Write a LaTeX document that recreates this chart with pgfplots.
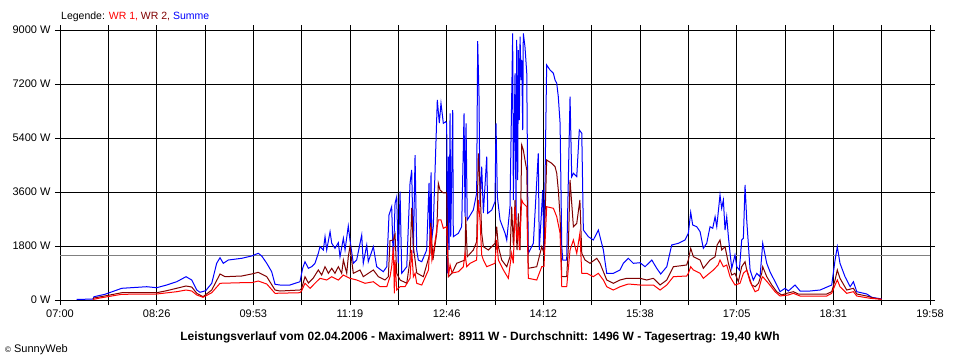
\documentclass[border=0pt]{standalone}
\usepackage{pgfplots}
\pgfplotsset{compat=1.18}
\usepackage{fontspec}
\setmainfont{Liberation Sans}
\definecolor{wrone}{RGB}{255,0,0}
\definecolor{wrtwo}{RGB}{128,0,0}
\definecolor{summe}{RGB}{0,0,255}
\definecolor{avggray}{RGB}{128,128,128}
\begin{document}
\begin{tikzpicture}[x=1pt,y=1pt]
\useasboundingbox (0,0) rectangle (960,360);
\begin{axis}[
  at={(60pt,60pt)}, anchor=south west,
  scale only axis, width=870pt, height=270pt,
  xmin=0, xmax=778, ymin=0, ymax=9000,
  xtick={0,43.222,86.444,129.667,172.889,216.111,259.333,302.556,345.778,389,432.222,475.444,518.667,561.889,605.111,648.333,691.556,734.778,778},
  xticklabels={07:00,,08:26,,09:53,,11:19,,12:46,,14:12,,15:38,,17:05,,18:31,,19:58},
  ytick={0,1800,3600,5400,7200,9000},
  yticklabels={0 W,1800 W,3600 W,5400 W,7200 W,9000 W},
  grid=major,
  major grid style={black, line width=1pt},
  axis line style={black, line width=1pt},
  tick style={black, line width=1pt},
  tick align=outside,
  major tick length=5pt,
  tick label style={font=\fontsize{11}{13}\selectfont},
  xticklabel style={yshift=-1pt},
  yticklabel style={xshift=-1pt},
  clip=false,
]
\addplot[avggray, line width=1pt] coordinates {(0,1496) (778,1496)};
% Summe
\addplot[summe, line width=1pt] coordinates {
(14.9,20)(29.5,30)(30.4,110)(40.2,190)(55.2,390)(77.5,443)(86.5,410)(95.4,500)(104.4,610)(112.7,777)(117.8,667)(122.3,333)(125.2,257)(130.3,310)(135.7,557)(140.1,1223)(143.1,1410)(146.0,1223)(150.5,1333)(162.5,1390)(171.4,1467)(177.3,1557)(180.4,1467)(184.9,1223)(189.3,943)(192.3,523)(196.7,500)(205.7,500)(214.6,610)(217.0,1057)(219.1,1277)(222.1,1057)(225.1,1110)(228.0,1223)(231.0,1557)(232.5,1777)(235.5,1667)(237.0,2110)(238.5,1667)(241.5,2277)(243.0,1890)(245.9,1723)(248.9,1910)(250.4,1443)(253.4,2057)(254.9,1667)(257.8,2467)(259.3,2000)(262.3,1223)(265.3,1333)(269.8,2167)(271.2,1223)(274.3,1833)(275.7,1277)(280.2,1777)(283.2,1110)(289.1,943)(292.2,1110)(294.2,2833)(296.6,3110)(298.1,1223)(299.6,3223)(301.1,3443)(302.5,1223)(304.1,3610)(305.6,890)(310.1,1110)(313.0,3890)(314.5,4333)(316.0,1567)(317.5,4833)(319.0,1667)(320.4,1333)(323.5,1277)(327.9,1667)(330.0,3900)(330.9,1777)(331.8,4257)(332.4,2000)(333.8,2443)(337.4,6667)(339.2,5900)(340.7,6557)(342.8,5890)(344.9,5943)(345.8,5900)(346.4,890)(347.3,4777)(347.9,1667)(348.8,6223)(349.4,2110)(351.2,6333)(351.7,2110)(356.2,2223)(359.2,2443)(361.3,6223)(362.2,2777)(363.1,5890)(364.2,2667)(369.6,3000)(372.6,3557)(373.5,8633)(374.7,6777)(375.6,3110)(377.1,4443)(378.6,2900)(381.6,4777)(382.5,2890)(386.1,3000)(389.0,3277)(389.9,5890)(391.1,3443)(393.5,2667)(398.0,2223)(399.5,2000)(402.4,3110)(404.8,8890)(405.4,3333)(406.9,7557)(407.8,2667)(408.4,8667)(409.3,4000)(409.9,8333)(410.8,6000)(411.4,8777)(412.3,7333)(412.9,8000)(413.8,5667)(414.3,8890)(415.8,8443)(417.4,7557)(418.3,3333)(418.8,1557)(423.3,1890)(427.7,4890)(428.6,1667)(431.7,3667)(432.8,1557)(435.2,7833)(438.2,7667)(441.2,7557)(442.7,7333)(444.2,7223)(445.6,6777)(447.2,5890)(448.7,1777)(449.6,1333)(453.1,1333)(456.1,6777)(457.6,4110)(459.1,4223)(462.1,4110)(464.4,5667)(466.6,5557)(468.0,2333)(472.5,2110)(476.9,2000)(481.4,2333)(485.9,1667)(488.9,890)(494.8,890)(500.8,1000)(503.8,1223)(508.2,1390)(512.7,1223)(518.7,1243)(523.2,1110)(529.2,1333)(533.6,1057)(537.2,867)(542.6,1110)(547.0,1833)(552.9,1890)(558.9,2000)(561.9,2223)(564.0,2923)(565.8,2500)(569.4,2443)(572.4,2277)(575.3,1723)(578.3,1890)(581.3,2443)(583.7,2390)(585.8,2777)(587.3,2443)(590.2,3500)(591.7,3057)(593.2,3333)(594.7,2333)(596.2,2777)(597.7,2110)(599.2,1557)(600.7,1057)(603.6,1500)(605.2,1110)(607.5,1000)(609.6,2000)(611.1,2057)(612.6,3833)(614.1,2667)(617.1,1000)(620.0,667)(623.1,890)(626.0,777)(628.4,1890)(632.0,1223)(634.9,943)(637.9,723)(643.9,277)(648.4,390)(651.3,300)(657.3,500)(661.8,300)(670.7,300)(679.7,333)(690.1,500)(693.1,1333)(695.1,1777)(697.5,1223)(702.0,777)(706.6,443)(709.5,610)(712.5,277)(721.4,200)(725.9,90)(734.8,33)};
% WR 2
\addplot[wrtwo, line width=1pt] coordinates {
(29.5,30)(30.4,67)(44.7,167)(55.2,243)(86.5,243)(95.4,310)(112.7,467)(117.8,433)(122.3,223)(127.9,110)(135.7,333)(143.1,867)(147.6,777)(162.5,800)(171.4,867)(177.3,923)(184.9,777)(192.3,333)(196.7,300)(214.6,333)(216.1,390)(219.1,777)(222.1,567)(226.5,733)(231.0,1000)(234.0,833)(237.0,1110)(240.0,890)(243.0,1057)(245.9,890)(248.9,1110)(251.9,890)(253.4,1333)(256.4,890)(257.8,1443)(259.3,1777)(262.3,890)(268.3,1000)(271.2,777)(280.2,1000)(284.7,777)(290.6,667)(293.6,777)(295.1,1977)(298.1,2000)(299.6,2200)(301.1,890)(304.1,667)(310.1,557)(313.0,1333)(314.5,3067)(316.0,1777)(319.0,900)(324.9,777)(330.9,1567)(331.5,2567)(333.5,1333)(336.9,2233)(338.3,3890)(339.8,3667)(342.8,3567)(345.8,3567)(347.3,777)(350.6,900)(354.7,1223)(362.2,1333)(362.8,2777)(364.2,1443)(369.6,1667)(372.6,1943)(374.1,4890)(375.6,3777)(377.1,2223)(378.6,1777)(383.0,1667)(389.0,1890)(390.5,2443)(392.0,1777)(395.0,1333)(399.5,1110)(402.4,1443)(403.9,3110)(405.4,1833)(406.9,3333)(408.7,1667)(409.9,2890)(411.4,1667)(412.9,5167)(414.3,5000)(415.8,4667)(417.4,4333)(418.8,1057)(426.3,1110)(430.8,1777)(432.8,1557)(435.2,4667)(439.7,4557)(442.7,4443)(444.2,4223)(445.6,3667)(447.2,2777)(448.7,777)(453.1,777)(454.6,1777)(456.1,4000)(459.1,2443)(462.1,2557)(464.9,3333)(466.6,1557)(469.5,1333)(474.0,1223)(480.0,1390)(482.9,1223)(488.9,667)(494.8,557)(500.8,667)(506.8,723)(518.7,723)(524.7,667)(530.6,723)(536.6,500)(542.6,667)(548.5,1110)(560.4,1167)(561.9,1333)(564.0,1723)(566.4,1443)(572.4,1333)(575.3,1057)(581.3,1333)(585.8,1443)(587.6,1833)(590.2,2000)(591.7,1667)(594.7,1777)(597.7,1223)(600.7,833)(603.6,890)(606.6,610)(609.6,1110)(612.6,1277)(614.1,1000)(618.6,500)(621.6,443)(624.6,557)(627.5,890)(628.4,1110)(632.0,777)(636.5,500)(640.9,277)(645.4,167)(649.9,223)(655.8,277)(660.3,200)(685.6,200)(690.1,277)(693.1,667)(695.1,1000)(697.5,723)(703.5,333)(709.5,390)(712.5,200)(721.4,133)(727.4,67)(734.8,23)};
% WR 1
\addplot[wrone, line width=1pt] coordinates {
(29.5,17)(35.8,67)(55.2,190)(86.5,200)(104.4,277)(112.7,333)(117.8,300)(122.3,167)(127.9,90)(135.7,243)(143.1,557)(162.5,577)(171.4,577)(177.3,633)(184.9,533)(192.3,223)(214.6,243)(216.1,310)(219.1,557)(223.6,390)(228.0,557)(232.5,723)(238.5,667)(243.0,777)(248.9,667)(253.4,833)(259.3,723)(265.3,667)(272.8,557)(280.2,610)(286.2,443)(292.2,443)(295.1,777)(296.6,1110)(298.1,1777)(299.0,223)(299.6,1333)(301.1,333)(304.1,443)(308.5,443)(313.0,723)(314.5,1667)(316.0,777)(317.5,890)(319.0,557)(323.5,500)(329.5,1000)(331.5,2443)(332.6,1333)(333.8,1557)(336.9,2333)(338.3,2667)(340.7,2667)(342.8,2390)(345.8,2443)(347.3,777)(348.8,1167)(350.6,900)(356.2,943)(360.7,1110)(362.2,1557)(363.7,1110)(366.7,1223)(372.6,1333)(374.1,3333)(375.6,2667)(377.1,1500)(378.6,1333)(381.6,1110)(389.0,1223)(390.5,2000)(392.0,1333)(396.5,1000)(400.9,723)(403.9,1557)(405.4,1223)(406.9,3110)(408.7,2000)(409.9,2443)(410.8,1667)(412.9,3333)(414.3,3223)(417.4,3110)(418.8,723)(426.3,667)(430.8,1110)(432.8,1110)(435.2,3110)(441.2,3057)(444.2,2777)(447.2,2223)(448.7,443)(453.1,443)(456.1,1667)(459.1,2000)(462.1,1557)(464.9,2223)(466.6,890)(471.1,890)(476.9,777)(481.4,890)(485.9,667)(488.9,443)(494.8,333)(500.8,443)(508.2,533)(518.7,500)(524.7,500)(530.6,500)(536.6,333)(542.6,500)(548.5,777)(560.4,800)(561.9,890)(564.0,1110)(566.4,1000)(572.4,890)(575.3,723)(584.3,1000)(588.5,1167)(590.2,1333)(593.2,1110)(596.2,1167)(599.2,777)(603.6,500)(608.1,557)(611.1,890)(614.1,1000)(617.1,610)(621.6,277)(624.6,333)(627.5,723)(628.4,777)(633.5,557)(639.4,277)(643.9,133)(651.3,167)(655.8,223)(661.8,133)(685.6,133)(690.1,223)(693.1,500)(695.1,667)(697.5,443)(703.5,223)(709.5,277)(712.5,133)(724.4,57)(734.8,23)};
\end{axis}
\node[anchor=west, inner sep=0pt, font=\fontsize{10.5}{12}\selectfont] at (61,343) {Legende: \textcolor{wrone}{WR 1,} \textcolor{wrtwo}{WR 2,} \textcolor{summe}{Summe}};
\node[anchor=center, inner sep=0pt, font=\fontsize{12}{14}\selectfont\bfseries] at (480,23) {Leistungsverlauf vom 02.04.2006 - Maximalwert: 8911 W - Durchschnitt: 1496 W - Tagesertrag: 19,40 kWh};
\node[anchor=west, inner sep=0pt, font=\fontsize{11}{13}\selectfont] at (5,10) {{\fontsize{8}{9}\selectfont\textcopyright} SunnyWeb};
\end{tikzpicture}
\end{document}
